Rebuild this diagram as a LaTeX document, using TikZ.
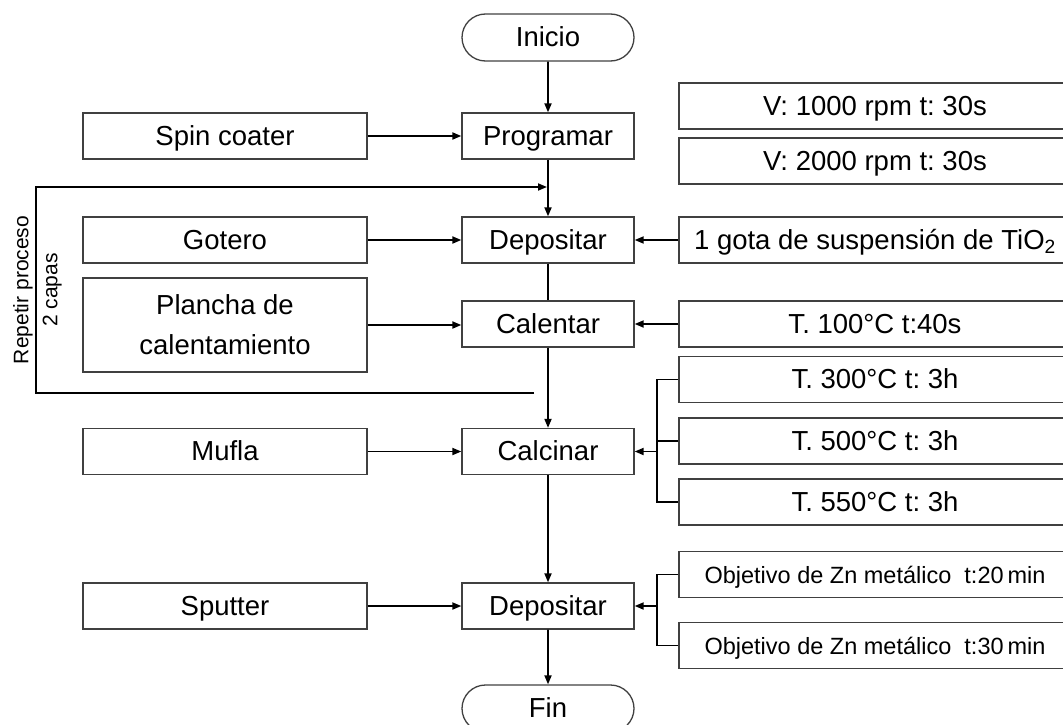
\documentclass[tikz,border=0pt]{standalone}
\usepackage{fontspec}
\setmainfont{Liberation Sans}
\usetikzlibrary{arrows.meta,positioning,shapes.misc}

\begin{document}
\begin{tikzpicture}[x=1pt, y=-1pt, >={Triangle[length=9pt,width=7pt]},
  frame/.style={draw=black!75, line width=1.3pt, inner sep=0pt, font=\fontsize{27.5}{33}\selectfont\frenchspacing},
  box/.style={frame, minimum height=46pt, text height=20pt, text depth=2pt},
  mid/.style={box, minimum width=172pt},
  dev/.style={box, minimum width=284pt},
  par/.style={box, minimum width=392pt},
  term/.style={mid, rounded rectangle, minimum height=47pt},
  con/.style={line width=1.8pt}]
\useasboundingbox (0,0) rectangle (1063,725);
\clip (0,0) rectangle (1063,725);
% main column
\node[term] (ini) at (548,37.5) {Inicio};
\node[mid] (prog) at (548,136) {Programar};
\node[mid] (dep1) at (548,240) {Depositar};
\node[mid] (cal) at (548,324) {Calentar};
\node[mid] (calc) at (548,451.5) {Calcinar};
\node[mid] (dep2) at (548,606) {Depositar};
\node[term] (fin) at (548,708.5) {Fin};
\foreach \a/\b in {ini/prog, prog/dep1, cal/calc, calc/dep2, dep2/fin} \draw[con, ->] (\a) -- (\b);
\draw[con] (dep1) -- (cal);
% devices
\foreach \n/\y/\txt in {spin/136/Spin coater, got/240/Gotero, muf/451.5/Mufla, spu/606/Sputter}
  \node[dev] (\n) at (225,\y) {\txt};
\node[frame, minimum width=284pt, minimum height=94pt, align=center, font=\fontsize{27.5}{40}\selectfont] (pla) at (225,325) {Plancha de\\calentamiento};
\foreach \a/\b in {spin/prog, got/dep1, pla/cal, muf/calc, spu/dep2} \draw[con, ->] (\a.east) -- (\a.east -| \b.west);
% parameters
\foreach \n/\y/\txt in {v1/106/V: 1000 rpm t: 30s, v2/161/V: 2000 rpm t: 30s, gota/240/1 gota de suspensión de TiO\textsubscript{2}, t1/324/T. 100°C t:40s, t3/379.5/T. 300°C t: 3h, t5/441/T. 500°C t: 3h, t55/502/T. 550°C t: 3h}
  \node[par] (\n) at (875,\y) {\txt};
\foreach \n/\y/\txt in {o20/574.5/20, o30/645.5/30}
  \node[par, font=\fontsize{23.5}{28}\selectfont\frenchspacing] (\n) at (875,\y) {Objetivo de Zn metálico~ t:\txt\,min};
\foreach \a/\b in {gota/dep1, t1/cal} \draw[con, ->] (\a.west) -- (\a.west -| \b.east);
% brackets
\coordinate (br1) at (657,451.5);
\coordinate (br2) at (657,606);
\draw[con] (t3.west) -| (br1 |- t55.west) -- (t55.west);
\draw[con] (t5.west) -- (t5.west -| br1);
\draw[con, ->] (br1 |- calc.east) -- (calc.east);
\draw[con] (o20.west) -| (br2 |- o30.west) -- (o30.west);
\draw[con, ->] (br2 |- dep2.east) -- (dep2.east);
% repeat loop
\coordinate (lend) at (534,393);
\coordinate (lcorner) at (36,187);
\coordinate (ljoin) at (547,187);
\draw[con, ->] (lend) -| (lcorner) -- (ljoin);
\node[rotate=90, align=center, inner sep=0pt, font=\fontsize{21}{29}\selectfont] (rep) at (37.5,290) {Repetir proceso\\2 capas};
\end{tikzpicture}
\end{document}
